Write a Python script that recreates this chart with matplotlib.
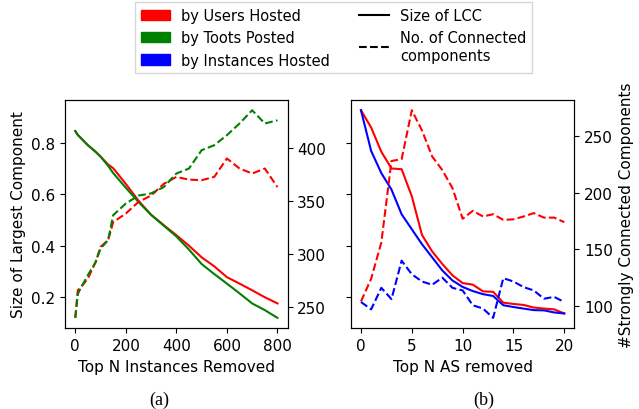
import matplotlib.pyplot as plt
from matplotlib.patches import Patch
from matplotlib.lines import Line2D

# panel (a): instances removed
inst_x = [0, 10, 20, 50, 80, 100, 130, 150, 200, 250, 300, 350, 400, 450, 500,
          550, 600, 650, 700, 750, 800]
lcc_users = [0.845, 0.83, 0.82, 0.79, 0.765, 0.746, 0.715, 0.701, 0.64, 0.575, 0.52,
             0.48, 0.441, 0.40, 0.355, 0.32, 0.278, 0.253, 0.227, 0.20, 0.176]
lcc_toots = [0.845, 0.83, 0.82, 0.79, 0.765, 0.746, 0.71, 0.682, 0.625, 0.57, 0.52,
             0.478, 0.436, 0.385, 0.329, 0.29, 0.253, 0.215, 0.176, 0.15, 0.12]
cc_users = [239.6, 265.7, 268, 276.7, 292, 306.6, 313, 330, 338, 349, 355, 366,
            372.6, 370, 369.5, 372.6, 390, 380.5, 375.8, 380.5, 363]
cc_toots = [239.6, 262, 267, 280, 292, 305, 313, 336.5, 347.5, 355, 357, 363,
            375.8, 380.5, 397.8, 402.5, 412, 423, 435.5, 423, 426]

# panel (b): AS removed
as_x = list(range(21))
as_lcc_users = [0.926, 0.859, 0.765, 0.70, 0.697, 0.592, 0.442, 0.378, 0.329, 0.285,
                0.255, 0.249, 0.223, 0.221, 0.179, 0.174, 0.170, 0.160, 0.156, 0.153, 0.137]
as_lcc_inst = [0.926, 0.768, 0.682, 0.618, 0.522, 0.464, 0.406, 0.355, 0.304, 0.265,
               0.240, 0.224, 0.212, 0.205, 0.169, 0.162, 0.156, 0.150, 0.149, 0.141, 0.137]
as_cc_users = [104, 124, 156, 228, 229.6, 272.8, 255, 232, 220, 204, 177, 184, 179,
               181, 176, 176.5, 179, 182, 178, 178, 174]
as_cc_inst = [103.5, 97, 116, 106, 140, 128, 121.6, 118.7, 125, 116, 113.7, 100.6,
              97.7, 89.5, 124.5, 121.6, 116.6, 113.7, 106.4, 108, 103.5]

plt.rcParams['font.size'] = 11

fig = plt.figure(figsize=(6.39, 4.10), dpi=100)
ax1 = fig.add_axes([0.102, 0.197, 0.348, 0.557])
ax2 = fig.add_axes([0.549, 0.197, 0.350, 0.557], sharey=ax1)

ax1.plot(inst_x, lcc_users, color='red')
ax1.plot(inst_x, lcc_toots, color='green')
ax1t = ax1.twinx()
ax1t.plot(inst_x, cc_users, color='red', linestyle='--')
ax1t.plot(inst_x, cc_toots, color='green', linestyle='--')
ax1.set_xlabel('Top N Instances Removed')
ax1.set_ylabel('Size of Largest Component')
ax1.set_xticks([0, 200, 400, 600, 800])
ax1t.set_yticks([250, 300, 350, 400])

ax2.plot(as_x, as_lcc_users, color='red')
ax2.plot(as_x, as_lcc_inst, color='blue')
ax2t = ax2.twinx()
ax2t.plot(as_x, as_cc_users, color='red', linestyle='--')
ax2t.plot(as_x, as_cc_inst, color='blue', linestyle='--')
ax2.set_xlabel('Top N AS removed')
ax2t.set_ylabel('#Strongly Connected Components')
ax2.set_xticks([0, 5, 10, 15, 20])
ax2t.set_yticks([100, 150, 200, 250])
ax2.tick_params(labelleft=False)

handles = [Patch(color='red', label='by Users Hosted'),
           Patch(color='green', label='by Toots Posted'),
           Patch(color='blue', label='by Instances Hosted'),
           Line2D([], [], color='black', label='Size of LCC'),
           Line2D([], [], color='black', linestyle='--',
                  label='No. of Connected\ncomponents')]
fig.legend(handles=handles, ncol=2, loc='upper center', bbox_to_anchor=(0.522, 1.01),
           fancybox=False, columnspacing=2.0, fontsize=10.5)

fig.text(0.25, 0.024, '(a)', family='Liberation Serif', fontsize=13, ha='center',
         va='center')
fig.text(0.757, 0.024, '(b)', family='Liberation Serif', fontsize=13, ha='center',
         va='center')

fig.savefig('out.png', dpi=100)
